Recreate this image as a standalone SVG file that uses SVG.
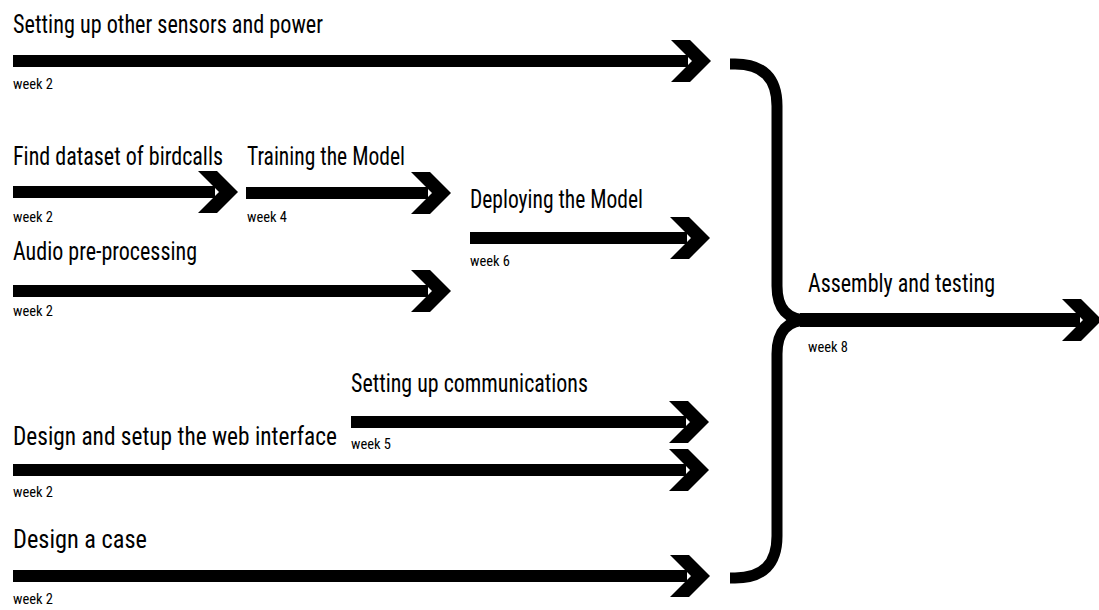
<svg xmlns="http://www.w3.org/2000/svg" width="1099" height="610" viewBox="0 0 1099 610">
  <style>
    .label { font-family: "Liberation Sans Narrow", "Roboto Condensed", "DejaVu Sans Condensed", "Liberation Sans", Arial, sans-serif; font-size: 26px; fill: #000; }
    .week { font-family: "Liberation Sans Narrow", "Roboto Condensed", "DejaVu Sans Condensed", "Liberation Sans", Arial, sans-serif; font-size: 15px; fill: #000; }
    .shaft { fill: #000; }
    .brace { fill: none; stroke: #000; stroke-width: 11; }
  </style>
  <defs>
    <!-- chevron arrowhead, tip at the origin -->
    <path id="head" d="M-40,-21 L-21,-21 L0,0 L-21,21 L-40,21 L-19,0 Z" fill="#000"/>
  </defs>
  <rect width="1099" height="610" fill="#fff"/>

  <g id="connectors">
    <!-- task arrows -->
    <rect class="shaft" x="13" y="55" width="675" height="12"/>
    <use href="#head" x="711" y="61"/>
    <rect class="shaft" x="13" y="186" width="202" height="12"/>
    <use href="#head" x="238" y="192"/>
    <rect class="shaft" x="246" y="187" width="182" height="12"/>
    <use href="#head" x="451" y="193"/>
    <rect class="shaft" x="13" y="285" width="415" height="12"/>
    <use href="#head" x="451" y="291"/>
    <rect class="shaft" x="470" y="232" width="217" height="12"/>
    <use href="#head" x="710" y="238"/>
    <rect class="shaft" x="351" y="416" width="335" height="12"/>
    <use href="#head" x="709" y="422"/>
    <rect class="shaft" x="13" y="464" width="673" height="12"/>
    <use href="#head" x="709" y="470"/>
    <rect class="shaft" x="13" y="570" width="674" height="12"/>
    <use href="#head" x="710" y="576"/>
    <!-- merging brace and final arrow -->
    <path class="brace" d="M730,64 H735 Q777,64 777,106 V286 Q777,320 808,320"/>
    <path class="brace" d="M808,320 Q777,320 777,354 V536 Q777,578 735,578 H730"/>
    <rect class="shaft" x="800" y="313" width="280" height="14"/>
    <use href="#head" x="1102" y="320"/>
  </g>

  <g id="node-sensors">
    <text class="label" x="13" y="33" textLength="310" lengthAdjust="spacingAndGlyphs">Setting up other sensors and power</text>
    <text class="week" x="13" y="89" textLength="40" lengthAdjust="spacingAndGlyphs">week 2</text>
  </g>
  <g id="node-dataset">
    <text class="label" x="13" y="165" textLength="210" lengthAdjust="spacingAndGlyphs">Find dataset of birdcalls</text>
    <text class="week" x="13" y="222" textLength="40" lengthAdjust="spacingAndGlyphs">week 2</text>
  </g>
  <g id="node-training">
    <text class="label" x="247" y="165" textLength="158" lengthAdjust="spacingAndGlyphs">Training the Model</text>
    <text class="week" x="247" y="222" textLength="40" lengthAdjust="spacingAndGlyphs">week 4</text>
  </g>
  <g id="node-audio">
    <text class="label" x="13" y="260" textLength="184" lengthAdjust="spacingAndGlyphs">Audio pre-processing</text>
    <text class="week" x="13" y="316" textLength="40" lengthAdjust="spacingAndGlyphs">week 2</text>
  </g>
  <g id="node-deploy">
    <text class="label" x="470" y="208" textLength="173" lengthAdjust="spacingAndGlyphs">Deploying the Model</text>
    <text class="week" x="470" y="266" textLength="40" lengthAdjust="spacingAndGlyphs">week 6</text>
  </g>
  <g id="node-assembly">
    <text class="label" x="808" y="292" textLength="187" lengthAdjust="spacingAndGlyphs">Assembly and testing</text>
    <text class="week" x="808" y="352" textLength="40" lengthAdjust="spacingAndGlyphs">week 8</text>
  </g>
  <g id="node-comms">
    <text class="label" x="351" y="392" textLength="237" lengthAdjust="spacingAndGlyphs">Setting up communications</text>
    <text class="week" x="351" y="449" textLength="40" lengthAdjust="spacingAndGlyphs">week 5</text>
  </g>
  <g id="node-web">
    <!-- narrowed with a transform so it clears the "week 5" label -->
    <text class="label" transform="translate(13,445) scale(0.87,1)" textLength="372.4" lengthAdjust="spacingAndGlyphs">Design and setup the web interface</text>
    <text class="week" x="13" y="497" textLength="40" lengthAdjust="spacingAndGlyphs">week 2</text>
  </g>
  <g id="node-case">
    <text class="label" x="13" y="548" textLength="134" lengthAdjust="spacingAndGlyphs">Design a case</text>
    <text class="week" x="13" y="604" textLength="40" lengthAdjust="spacingAndGlyphs">week 2</text>
  </g>
</svg>
